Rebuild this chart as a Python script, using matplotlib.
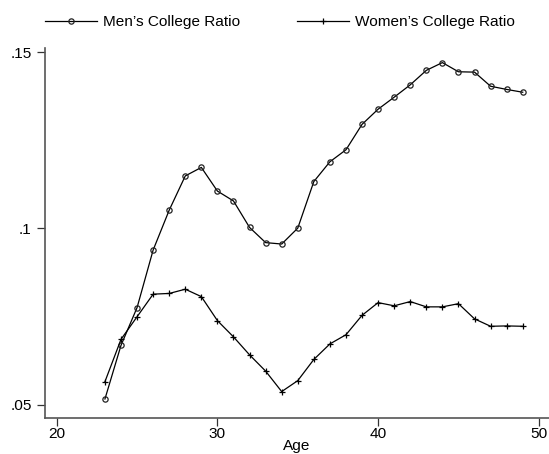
import matplotlib

matplotlib.use("Agg")
import matplotlib.pyplot as plt

# data
ages = list(range(23, 50))
men_ratio = [
    0.0517, 0.0669, 0.0776, 0.0939, 0.1052, 0.1149, 0.1173, 0.1106, 0.1078,
    0.1003, 0.0960, 0.0956, 0.1001, 0.1133, 0.1189, 0.1223, 0.1295, 0.1338,
    0.1372, 0.1407, 0.1448, 0.1470, 0.1444, 0.1443, 0.1403, 0.1394, 0.1386,
]
women_ratio = [
    0.0566, 0.0686, 0.0750, 0.0814, 0.0816, 0.0828, 0.0807, 0.0739, 0.0693,
    0.0642, 0.0596, 0.0538, 0.0569, 0.0629, 0.0673, 0.0699, 0.0754, 0.0790,
    0.0781, 0.0793, 0.0778, 0.0778, 0.0787, 0.0744, 0.0723, 0.0724, 0.0723,
]
x_ticks = [20, 30, 40, 50]
y_ticks = [0.05, 0.1, 0.15]
y_ticklabels = [".05", ".1", ".15"]

plt.rcParams["font.family"] = ["Liberation Sans", "DejaVu Sans"]
fs = 11.1

fig = plt.figure(figsize=(5.49, 4.54), dpi=100)
ax = fig.add_axes([45 / 549, 1 - 417.7 / 454, 504 / 549, (417.7 - 48.3) / 454])

(l1,) = ax.plot(
    ages, men_ratio, color="black", linewidth=0.9,
    marker="o", markersize=3.8, markerfacecolor="none",
    markeredgecolor="#222222", markeredgewidth=0.9,
    label="Men\u2019s College Ratio",
)
(l2,) = ax.plot(
    ages, women_ratio, color="black", linewidth=0.9,
    marker="+", markersize=4.5, markeredgewidth=0.9,
    label="Women\u2019s College Ratio",
)

ax.set_xlim(19.27, 50.635)
ax.set_ylim(0.0464, 0.15105)
ax.set_xticks(x_ticks)
ax.set_yticks(y_ticks)
ax.set_yticklabels(y_ticklabels)
ax.tick_params(axis="both", direction="out", length=5.5, width=0.9,
               labelsize=fs, color="#333333")
ax.tick_params(axis="x", pad=1.5)
ax.tick_params(axis="y", pad=4)
for side in ("top", "right"):
    ax.spines[side].set_visible(False)
for side in ("left", "bottom"):
    ax.spines[side].set_color("#555555")
    ax.spines[side].set_linewidth(1.2)

ax.set_xlabel("Age", fontsize=fs, labelpad=-1.5)

fig.legend(
    handles=[l1, l2], loc="center left",
    bbox_to_anchor=(45 / 549, 1 - 22 / 454),
    ncol=2, frameon=False, fontsize=fs,
    borderpad=0, borderaxespad=0,
    handlelength=3.35, handletextpad=0.4, columnspacing=3.7,
    numpoints=1,
)

fig.savefig("out.png", dpi=100)
